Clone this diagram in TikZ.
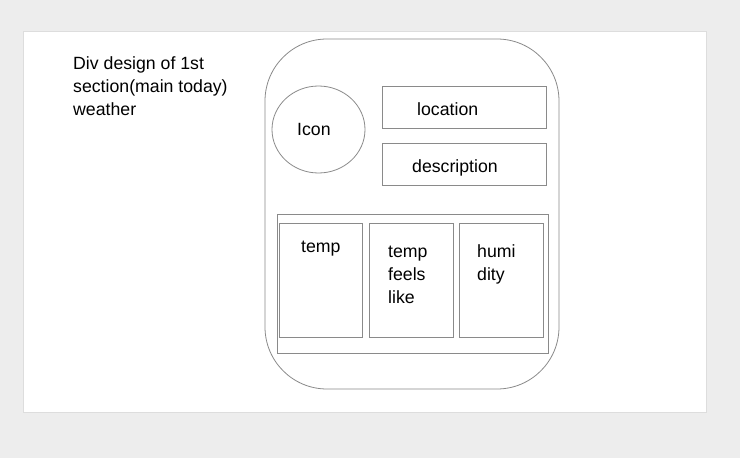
\documentclass[tikz,border=0pt]{standalone}
\usepackage{fontspec}
\setmainfont{Liberation Sans}
\usetikzlibrary{shapes.geometric}
\definecolor{pagegrey}{HTML}{EDEDED}
\definecolor{panelline}{HTML}{DDDDDD}
\definecolor{edgegrey}{HTML}{8A8A8A}

\tikzset{
  box/.style={draw=edgegrey, line width=0.8pt, inner sep=0pt},
  txt/.style={font=\fontsize{17.7}{23}\selectfont, inner sep=0pt, align=left, anchor=base west}
}

\begin{document}
\begin{tikzpicture}[x=1pt, y=-1pt]
      \filldraw[fill=pagegrey, draw=none] (0, 0) rectangle (740, 458);
      \useasboundingbox (0, 0) rectangle (740, 458);
      \filldraw[fill=white, draw=panelline, line width=1pt] (23, 31) rectangle (706, 412);

      % base of a multi-line node is its last line
      \node[txt] (title) at (73, 115) {Div design of 1st\\section(main today)\\weather};

      % the card
      \node[box, rounded corners=62pt, minimum width=294pt, minimum height=350pt] (card) at (412, 214) {};
      \node[box, ellipse, minimum width=93pt, minimum height=87pt] (icon) at (318.5, 129.5) {};
      \node[box, minimum width=164pt, minimum height=42pt] (location) at (464, 107) {};
      \node[box, minimum width=164pt, minimum height=42pt] (description) at (464, 164) {};
      \node[txt] (iconlbl) at (297, 135) {Icon};
      \node[txt] (locationlbl) at (417, 115.5) {location};
      \node[txt] (descriptionlbl) at (412, 172) {description};

      % bottom row
      \node[box, minimum width=271pt, minimum height=139pt] (row) at (412.5, 283.5) {};
      \node[box, minimum width=83pt, minimum height=114pt] (tempbox) at (321, 280) {};
      \node[box, minimum width=84pt, minimum height=114pt] (feelsbox) at (411, 280) {};
      \node[box, minimum width=84pt, minimum height=114pt] (humiditybox) at (501, 280) {};
      \node[txt] (templbl) at (301, 252) {temp};
      \node[txt] (feelslbl) at (388, 303) {temp\\feels\\like};
      \node[txt] (humiditylbl) at (477, 280) {humi\\dity};

    \end{tikzpicture}
\end{document}
